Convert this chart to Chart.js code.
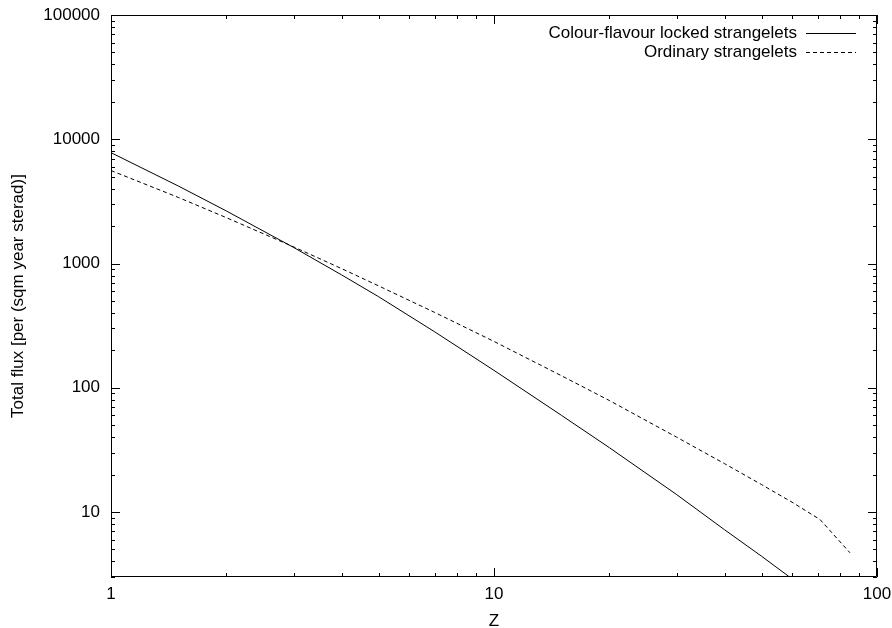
<!DOCTYPE html>
<html>
<head>
<meta charset="utf-8">
<script src="https://cdn.jsdelivr.net/npm/chart.js@4.4.1/dist/chart.umd.min.js"></script>
<style>
  html, body { margin: 0; padding: 0; background: #fff; }
  #wrap { width: 892px; height: 628px; }
</style>
</head>
<body>
<div id="wrap"><canvas id="flux"></canvas></div>
<script>
const cflZ = [1, 1.5, 2, 3, 4, 5, 7, 10, 15, 20, 30, 40, 50, 60];
const cflFlux = [7800, 4200, 2650, 1345, 810, 540, 282, 138, 60, 33, 13.8, 7.2, 4.4, 2.9];
const ordZ = [1, 1.5, 2, 3, 4, 5, 7, 10, 15, 20, 30, 40, 50, 60, 71, 85];
const ordFlux = [5600, 3400, 2340, 1360, 910, 660, 404, 236, 125, 79, 40, 24.5, 16.6, 12.0, 8.7, 4.7];
const xTicks = [1, 10, 100];
const yTicks = [10, 100, 1000, 10000, 100000];
const seriesNames = ["Colour-flavour locked strangelets", "Ordinary strangelets"];
const xTitle = "Z";
const yTitle = "Total flux [per (sqm year sterad)]";

const FONT = "Liberation Sans, Arial, Helvetica, sans-serif";
const FSIZE = 17;

function toPoints(xs, ys) {
    return xs.map((x, i) => ({ x: x, y: ys[i] }));
}

// gnuplot style frame: border on all sides, ticks pointing inward, mirrored
const framePlugin = {
    id: "frame",
    afterDatasetsDraw(chart) {
        const { ctx, chartArea: a, scales } = chart;
        ctx.save();
        ctx.strokeStyle = "#000";
        ctx.lineWidth = 1;
        ctx.beginPath();
        ctx.rect(a.left + 0.5, a.top + 0.5, a.right - a.left - 1, a.bottom - a.top - 1);
        ctx.stroke();

        const logTicks = (scale) => {
            const out = [];
            const lo = Math.floor(Math.log10(scale.min)), hi = Math.ceil(Math.log10(scale.max));
            for (let d = lo; d <= hi; d++) {
                for (let m = 1; m <= 9; m++) {
                    const v = m * Math.pow(10, d);
                    if (v >= scale.min - 1e-9 && v <= scale.max + 1e-9) out.push({ v, major: m === 1 });
                }
            }
            return out;
        };

        ctx.beginPath();
        logTicks(scales.x).forEach(t => {
            const px = Math.round(scales.x.getPixelForValue(t.v)) + 0.5;
            const len = t.major ? 9 : 4;
            ctx.moveTo(px, a.bottom); ctx.lineTo(px, a.bottom - len);
            ctx.moveTo(px, a.top); ctx.lineTo(px, a.top + len);
        });
        logTicks(scales.y).forEach(t => {
            const py = Math.round(scales.y.getPixelForValue(t.v)) + 0.5;
            const len = t.major ? 9 : 4;
            ctx.moveTo(a.left, py); ctx.lineTo(a.left + len, py);
            ctx.moveTo(a.right, py); ctx.lineTo(a.right - len, py);
        });
        ctx.stroke();

        ctx.font = FSIZE + "px " + FONT;
        ctx.fillStyle = "#000";
        ctx.textBaseline = "middle";

        // axis titles
        ctx.textAlign = "center";
        ctx.fillText(xTitle, (a.left + a.right) / 2, a.bottom + 44);
        ctx.save();
        ctx.translate(18, (a.top + a.bottom) / 2);
        ctx.rotate(-Math.PI / 2);
        ctx.fillText(yTitle, 0, 0);
        ctx.restore();

        // key, top right, text right-aligned with sample line after it
        ctx.textAlign = "right";
        chart.data.datasets.forEach((ds, i) => {
            const y = a.top + 18 + i * 19;
            ctx.fillText(ds.label, a.right - 80, y);
            ctx.beginPath();
            ctx.setLineDash(ds.borderDash || []);
            ctx.moveTo(a.right - 71, y + 0.5);
            ctx.lineTo(a.right - 21, y + 0.5);
            ctx.stroke();
        });
        ctx.restore();
    }
};

new Chart(document.getElementById("flux"), {
    type: "line",
    data: {
        datasets: [
            { label: seriesNames[0], data: toPoints(cflZ, cflFlux), borderColor: "#000", borderWidth: 1, pointRadius: 0, tension: 0 },
            { label: seriesNames[1], data: toPoints(ordZ, ordFlux), borderColor: "#000", borderWidth: 1, borderDash: [4, 3], pointRadius: 0, tension: 0 }
        ]
    },
    options: {
        responsive: true,
        maintainAspectRatio: false,
        animation: false,
        layout: { padding: { left: 0, top: 15, right: 15, bottom: 0 } },
        plugins: { legend: { display: false }, tooltip: { enabled: false } },
        scales: {
            x: {
                type: "logarithmic",
                min: 1, max: 100,
                grid: { display: false, drawTicks: false },
                border: { display: false },
                afterFit: s => { s.height = 51; s.paddingLeft = 0; s.paddingRight = 0; },
                afterBuildTicks: s => { s.ticks = xTicks.map(v => ({ value: v })); },
                ticks: { autoSkip: false, maxRotation: 0, padding: 7, color: "#000", font: { family: FONT, size: FSIZE }, callback: v => String(v) }
            },
            y: {
                type: "logarithmic",
                min: 3, max: 100000,
                grid: { display: false, drawTicks: false },
                border: { display: false },
                afterFit: s => { s.width = 111; s.paddingTop = 0; s.paddingBottom = 0; },
                afterBuildTicks: s => { s.ticks = yTicks.map(v => ({ value: v })); },
                ticks: { autoSkip: false, padding: 11, color: "#000", font: { family: FONT, size: FSIZE }, callback: v => String(v) }
            }
        }
    },
    plugins: [framePlugin]
});
</script>
</body>
</html>
